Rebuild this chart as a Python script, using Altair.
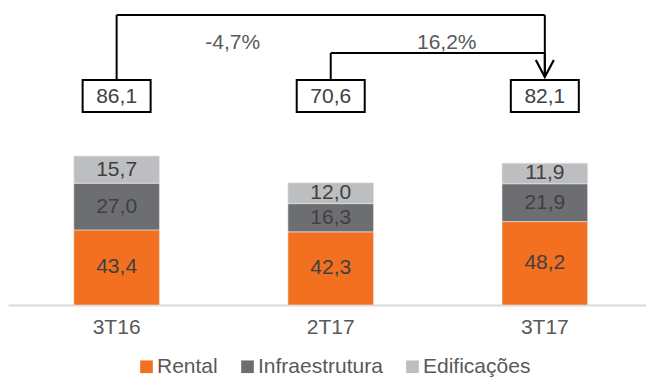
import altair as alt
import pandas as pd

# ---- data ----
quarters = ["3T16", "2T17", "3T17"]
segments = ["Rental", "Infraestrutura", "Edificações"]
rental = [43.4, 42.3, 48.2]
infra = [27.0, 16.3, 21.9]
edif = [15.7, 12.0, 11.9]
totals = [86.1, 70.6, 82.1]
change_from = ["3T16", "2T17"]
change_to = ["3T17", "3T17"]
change_pct = [-0.047, 0.162]

colors = ["#F37021", "#6D6E71", "#BDBEC0"]

rows = []
for i, q in enumerate(quarters):
    for k, (seg, vals) in enumerate(zip(segments, [rental, infra, edif])):
        rows.append({"quarter": q, "segment": seg, "value": vals[i], "order": k})
bars_df = pd.DataFrame(rows)
tot_df = pd.DataFrame({"quarter": quarters, "total": totals})
chg_df = pd.DataFrame({"from": change_from, "to": change_to, "pct": change_pct})

FONT = "Liberation Sans"
FS = 21
Y_MAX = 173.4
xscale = alt.Scale(domain=quarters, paddingInner=0.6, paddingOuter=0.29, align=0.53)
yscale = alt.Scale(domain=[0, Y_MAX], nice=False)

xaxis = alt.Axis(
    title=None, labelAngle=0, labelFontSize=FS, labelColor="#595959",
    labelFont=FONT, labelPadding=11, ticks=False, grid=False,
    domainColor="#D9D9D9", domainWidth=2,
)


def X(field, **kw):
    return alt.X(field, scale=xscale, axis=xaxis, title=None, **kw)


bars = alt.Chart(bars_df).mark_bar(stroke="#E8E8E8", strokeWidth=0.6).encode(
    x=X("quarter:N"),
    y=alt.Y("value:Q", stack="zero", scale=yscale, axis=None),
    color=alt.Color(
        "segment:N",
        scale=alt.Scale(domain=segments, range=colors),
        legend=alt.Legend(
            title=None, orient="none", direction="horizontal",
            legendX=128, legendY=351, symbolType="square", symbolSize=160,
            symbolStrokeWidth=0, labelFontSize=FS, labelColor="#595959",
            labelFont=FONT, labelOffset=0, columnPadding=19, padding=0,
        ),
    ),
    order=alt.Order("order:Q"),
)

seg_labels = alt.Chart(bars_df).transform_stack(
    stack="value", groupby=["quarter"], sort=[alt.SortField("order")], as_=["y0", "y1"]
).transform_calculate(
    mid="(datum.y0 + datum.y1) / 2"
).mark_text(fontSize=FS, font=FONT, color="#404040", baseline="middle").encode(
    x=X("quarter:N"),
    y=alt.Y("mid:Q", scale=yscale, axis=None),
    text=alt.Text("value:Q", format=".1f"),
)

BOX_TOP, BOX_BOT = 75, 107
boxes = alt.Chart(tot_df).mark_bar(
    width=68, fill="white", stroke="black", strokeWidth=2
).encode(
    x=X("quarter:N"),
    y=alt.value(BOX_TOP),
    y2=alt.value(BOX_BOT),
)
box_text = alt.Chart(tot_df).mark_text(
    fontSize=FS, font=FONT, color="#404040", baseline="middle"
).encode(
    x=X("quarter:N"),
    y=alt.value((BOX_TOP + BOX_BOT) / 2 + 1),
    text=alt.Text("total:Q", format=".1f"),
)

levels = [10, 48]
ARROW_TIP = 72
layers = [bars, seg_labels]
for i, lvl in enumerate(levels):
    src = alt.Chart(chg_df).transform_filter(alt.datum["from"] == change_from[i])
    h = src.mark_rule(color="black", strokeWidth=2).encode(
        x=X("from:N", bandPosition=0.5),
        x2=alt.X2("to:N", bandPosition=0.5),
        y=alt.value(lvl),
    )
    vl = src.mark_rule(color="black", strokeWidth=2).encode(
        x=X("from:N", bandPosition=0.5),
        y=alt.value(lvl), y2=alt.value(BOX_TOP),
    )
    vr = src.mark_rule(color="black", strokeWidth=2).encode(
        x=X("to:N", bandPosition=0.5),
        y=alt.value(lvl), y2=alt.value(ARROW_TIP),
    )
    lab = src.mark_text(
        fontSize=FS, font=FONT, color="#595959", baseline="middle", dx=116
    ).encode(
        x=X("from:N", bandPosition=0.5),
        y=alt.value(38),
        text=alt.Text("pct:Q", format=".1%"),
    )
    layers += [h, vl, vr, lab]

arrow = alt.Chart(chg_df).transform_filter(alt.datum["from"] == change_from[0]).mark_point(
    shape="M-0.53,-1L0,0L0.53,-1", size=1156, filled=False, stroke="black",
    strokeWidth=2.2, opacity=1,
).encode(
    x=X("to:N"),
    y=alt.value(ARROW_TIP),
)
layers += [arrow, boxes, box_text]

chart = alt.layer(*layers).properties(
    width=638, height=300,
    autosize=alt.AutoSizeParams(type="none"),
    padding={"left": 8, "top": 5, "right": 0, "bottom": 73},
).configure(
    font=FONT,
    locale={"number": {"decimal": ",", "thousands": ".", "grouping": [3],
                       "currency": ["R$", ""], "minus": "-"}},
).configure_view(stroke=None)

chart.save("out.html", embed_options={"renderer": "svg", "actions": False})
